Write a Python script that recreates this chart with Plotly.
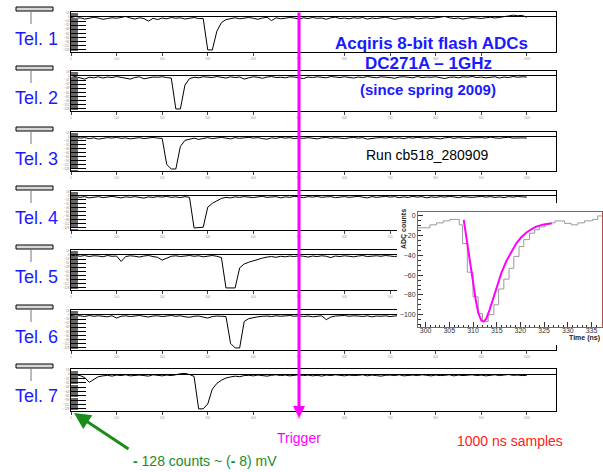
import plotly.graph_objects as go

# ---------------- data ----------------
tel_names = ["Tel. 1", "Tel. 2", "Tel. 3", "Tel. 4", "Tel. 5", "Tel. 6", "Tel. 7"]
sample_time_ns = list(range(0, 1001, 10))

tel1_adc = [-2, -6, -3, -8, -5, -1, -4, -9, -6, -3,
            -5, -2, 2, -4, -8, -3, -6, -16, -5, -10,
            -4, -7, -2, -5, -3, -8, -4, -2, -6, -6,
            -128, -128, -55, -22, -10, -6, -3, -7, -4, -2,
            -5, -9, -4, -1, -14, -3, -7, -5, -2, -4,
            -8, -3, -6, -2, -5, -4, -9, -3, -1, -6,
            -4, -7, -3, -5, -2, -8, -4, -6, -3, -1,
            -5, -9, -6, -3, -4, -2, -7, -5, -3, -6,
            -4, -1, 2, -3, -6, -4, -8, -5, -2, -4,
            -6, -3, -1, -4, -2, 0, 4, 7, 5, 6,
            -1]
tel2_adc = [2, -3, -6, -12, -5, -7, -3, -8, -4, -6,
            -2, -5, -9, -12, -6, -3, -11, -7, -4, -5,
            -3, -6, -8, -128, -128, -35, -10, -5, -7, -3,
            -4, -6, -2, -5, -8, -3, -6, -4, -12, -7,
            -3, -5, -9, -4, -2, -6, -5, -7, -3, -4,
            -8, -10, -4, -6, -3, -5, -7, -2, -4, -6,
            -3, -5, -8, -4, -6, -2, -5, -7, -3, -4,
            -6, -9, -4, -3, -5, -7, -2, -6, -4, -5,
            -3, -6, -10, -5, -4, -7, -3, -5, -2, -6,
            -4, -7, -5, -3, -8, -4, -6, -2, -5, -3,
            -4]
tel3_adc = [3, -2, -5, -3, -7, -4, -9, -6, -3, -5,
            -2, -6, -4, -8, -5, -3, -7, -4, -2, -5,
            -6, -110, -128, -128, -38, -14, -8, -5, -10, -6,
            -3, -7, -4, -2, -5, -8, -3, -6, -4, -2,
            -5, -3, -7, -9, -4, -6, -2, -5, -3, -7,
            -4, -6, -3, -5, -8, -4, -2, -6, -3, -5,
            -7, -4, -2, -5, -3, -9, -6, -4, -3, -5,
            -2, -6, -4, -7, -3, -5, -2, -4, -6, -3,
            -5, -8, -4, -2, -6, -3, -5, -7, -4, -2,
            -3, -5, -1, -4, -6, -3, -2, -5, -3, -4,
            -5]
tel4_adc = [-4, -2, -6, -3, -8, -5, -3, -7, -4, -2,
            -5, -8, -4, -6, -3, -5, -9, -4, -6, -3,
            -5, -2, -6, -4, -7, -3, -6, -128, -128, -125,
            -45, -30, -20, -10, -6, -8, -4, -6, -3, -5,
            -7, -4, -2, -6, -5, -3, -8, -4, -6, -2,
            -4, -7, -3, -5, -2, -6, -4, -3, -7, -5,
            -3, -6, -4, -2, -5, -8, -3, -6, -4, -2,
            -5, -3, -7, -4, -6, -2, -5, -3, -8, -4,
            -6, -3, -5, -2, -4, -7, -3, -5, -6, -4,
            -2, -5, -3, -6, -4, -7, -3, -5, -2, -4,
            -5]
tel5_adc = [-3, -1, -5, -2, -6, -3, -4, -7, -2, -5,
            -4, -25, -6, -3, -5, -8, -4, -2, -6, -9,
            -20, -12, -5, -3, -6, -4, -2, -5, -3, -7,
            -4, -2, -5, -10, -128, -128, -128, -50, -35, -28,
            -22, -16, -12, -8, -6, -9, -5, -7, -4, -6,
            -3, -5, -8, -4, -6, -3, -5, -10, -4, -6,
            -3, -5, -7, -4, -2, -6, -4, -3, -5, -2,
            -4, -6, -3, -5, -7, -4, -2, -5, -3, -6,
            -4, -5, -3, -6, -2, -4, -7, -3, -5, -4,
            -2, -5, -3, -6, -4, -3, -5, -2, -4, -3,
            -4]
tel6_adc = [-2, -4, -3, -6, -2, -5, -3, -4, -7, -3,
            -12, -5, -3, -6, -4, -2, -5, -8, -4, -3,
            -6, -4, -2, -5, -3, -7, -9, -5, -4, -8,
            -12, -6, -4, -5, -6, -110, -128, -128, -25, -14,
            -10, -7, -5, -4, -6, -3, -5, -4, -2, -5,
            -3, -6, -4, -7, -5, -3, -18, -8, -4, -3,
            -2, -5, -3, -4, -6, -3, -7, -4, -5, -3,
            -6, -4, -2, -5, -3, -6, -4, -5, -3, -2,
            -4, -6, -3, -5, -4, -2, -5, -3, -6, -4,
            -3, -5, -4, -2, -6, -3, -5, -4, -3, -4,
            -4]
tel7_adc = [-4, -2, -5, -12, -30, -18, -9, -6, -4, -7,
            -3, -5, -2, -6, -4, -3, -5, -7, -2, -4,
            -6, -3, -5, -2, 2, 3, -1, -8, -128, -128,
            -110, -55, -34, -22, -14, -10, -7, -9, -5, -4,
            -6, -3, -5, -7, -4, -2, -5, -3, -6, -4,
            -2, -5, -3, -6, -4, -7, -3, -5, -2, -4,
            -6, -3, -5, -4, -2, -6, -3, -5, -7, -4,
            -3, -5, -2, -6, -4, -3, -5, -2, -4, -6,
            -3, -5, -4, -2, -6, -3, -5, -4, -2, -5,
            -3, -6, -4, -2, -5, -3, -1, -4, -3, -5,
            -4]
tel_adc = [tel1_adc, tel2_adc, tel3_adc, tel4_adc, tel5_adc, tel6_adc, tel7_adc]

# inset: zoomed pulse (histogram steps) and fit
hist_edge_ns = [297.5, 300.9, 302.3, 303.7, 305.1, 307.1, 307.8, 308.8, 310.0, 311.1,
                312.0, 313.2, 314.4, 315.4, 316.5, 317.6, 318.6, 319.7, 320.7, 321.9,
                323.0, 324.0, 325.2, 326.5, 327.3, 329.3, 330.7, 332.1, 333.5, 335.2,
                336.3, 338.0]
hist_counts = [-12, -9, -7, -5, -3.5, -9, -28, -57, -82, -99,
               -107, -100, -90, -74, -64, -53, -41, -31, -24, -17.5,
               -14, -11, -8, -7, -5, -7.5, -9, -7, -5, -3.5,
               0]
fit_time_ns = [308.05, 308.47, 308.96, 309.45, 310.01, 310.57, 311.13, 311.76, 312.25,
               312.8, 313.5, 314.2, 315.06, 315.97, 317.0, 318.07, 319.1, 320.17,
               321.2, 322.3, 323.3, 324.7, 326.6]
fit_counts = [-4, -17.6, -34.5, -51, -68, -85, -98.6, -106, -107,
              -104, -95, -85, -72, -58, -46, -36, -28, -21.6,
              -17, -13.5, -10.8, -8.8, -7.4]

# ---------------- layout helpers ----------------
W, H = 603, 472
def px(v):
    return v / W
def py(v):
    return 1 - v / H

panel_top = [12, 71, 132, 191, 250, 310, 369]
panel_bottom = [52, 111, 171, 230, 290, 350, 411]
FONT = "Liberation Sans, Arial, sans-serif"
BLUE = "#1a1aff"

def label(x, y, text, size, color, **kw):
    d = dict(x=px(x), y=py(y), xref="paper", yref="paper", text=text, showarrow=False,
             xanchor="center", yanchor="middle",
             font=dict(family=FONT, size=size, color=color))
    d.update(kw)
    return d

fig = go.Figure()
layout = dict(width=W, height=H, margin=dict(l=0, r=0, t=0, b=0, pad=0), autosize=False,
              paper_bgcolor="white", plot_bgcolor="white", showlegend=False,
              font=dict(family=FONT))
shapes = []
annotations = []

for i, (name, vals) in enumerate(zip(tel_names, tel_adc)):
    k = i + 1
    xa = "x" if k == 1 else f"x{k}"
    ya = "y" if k == 1 else f"y{k}"
    fig.add_trace(go.Scatter(x=sample_time_ns, y=vals, mode="lines",
                             line=dict(color="black", width=1),
                             xaxis=xa, yaxis=ya, hoverinfo="skip"))
    xkey = "xaxis" if k == 1 else f"xaxis{k}"
    ykey = "yaxis" if k == 1 else f"yaxis{k}"
    layout[xkey] = dict(domain=[px(71), px(556)], range=[0, 1064], anchor=ya,
                        showline=True, mirror=True, linecolor="black", linewidth=1,
                        ticks="outside", ticklen=3, tickcolor="#444", dtick=100,
                        tickfont=dict(size=3, color="#999"), showgrid=False,
                        zeroline=False, fixedrange=True, automargin=False)
    layout[ykey] = dict(domain=[py(panel_bottom[i]), py(panel_top[i])], range=[-136, 19.4],
                        anchor=xa, showline=True, mirror=True, linecolor="black",
                        linewidth=1, ticks="inside", ticklen=15, tickcolor="black",
                        tickwidth=1.3,
                        tick0=0, dtick=16, tickfont=dict(size=3, color="#888"),
                        minor=dict(ticks="inside", ticklen=7, dtick=4, tickcolor="#666"),
                        showgrid=False, zeroline=True, zerolinecolor="black",
                        zerolinewidth=1, fixedrange=True, automargin=False)
    annotations.append(label(36, panel_top[i] + 27, name, 18, BLUE))
    # small icon on the left
    shapes.append(dict(type="rect", xref="paper", yref="paper",
                       x0=px(16), x1=px(53), y0=py(panel_top[i] - 1), y1=py(panel_top[i] - 5),
                       line=dict(color="black", width=1), fillcolor="#d8d8d8"))
    shapes.append(dict(type="line", xref="paper", yref="paper",
                       x0=px(31), x1=px(31), y0=py(panel_top[i] - 1), y1=py(panel_top[i] + 12),
                       line=dict(color="#777", width=1)))

# white cover behind the inset (an overlapping subplot draws its own background)
fig.add_trace(go.Scatter(x=[None], y=[None], xaxis="x8", yaxis="y8", hoverinfo="skip"))
layout["xaxis8"] = dict(domain=[px(397), 1], range=[0, 1], anchor="y8",
                        showline=False, showticklabels=False, ticks="", showgrid=False,
                        zeroline=False, fixedrange=True)
layout["yaxis8"] = dict(domain=[py(345), py(203)], range=[0, 1], anchor="x8",
                        showline=False, showticklabels=False, ticks="", showgrid=False,
                        zeroline=False, fixedrange=True)

# inset
fig.add_trace(go.Scatter(x=hist_edge_ns, y=hist_counts + [hist_counts[-1]], mode="lines",
                         line=dict(color="#9a9a9a", width=1, shape="hv"),
                         xaxis="x9", yaxis="y9", hoverinfo="skip"))
fig.add_trace(go.Scatter(x=fit_time_ns, y=fit_counts, mode="lines",
                         line=dict(color="#ff00ff", width=2),
                         xaxis="x9", yaxis="y9", hoverinfo="skip"))
FRAME = "#b05050"
layout["xaxis9"] = dict(domain=[px(418), px(602)], range=[298.4, 337.2], anchor="y9",
                        showline=True, mirror=True, linecolor=FRAME, linewidth=1,
                        ticks="inside", ticklen=5, tickcolor="#333", dtick=5, tick0=300,
                        tickfont=dict(size=7, color="#333"), ticklabelstandoff=-3,
                        minor=dict(ticks="inside", ticklen=2.5, dtick=1, tickcolor="#333"),
                        showgrid=False, zeroline=False, fixedrange=True, automargin=False)
layout["yaxis9"] = dict(domain=[py(327), py(212)], range=[-112.5, 4], anchor="x9",
                        showline=True, mirror=True, linecolor=FRAME, linewidth=1,
                        ticks="inside", ticklen=5, tickcolor="#333", dtick=20, tick0=0,
                        tickfont=dict(size=7, color="#333"),
                        minor=dict(ticks="inside", ticklen=2.5, dtick=5, tickcolor="#333"),
                        showgrid=False, zeroline=False, fixedrange=True, automargin=False)

annotations += [
    label(404, 229, "<b>ADC counts</b>", 7, "#222", textangle=-90),
    label(602, 338, "<b>Time (ns)</b>", 7, "#222", xanchor="right"),
    label(431, 44, "<b>Acqiris 8-bit flash ADCs</b>", 17, BLUE),
    label(428, 64, "<b>DC271A – 1GHz</b>", 17, BLUE),
    label(428, 89, "<b>(since spring 2009)</b>", 15, BLUE),
    label(427, 155.5, "Run cb518_280909", 14, "black"),
    label(299, 438, "Trigger", 14, "#ff00ff"),
    label(510, 441, "1000 ns samples", 14, "#ff2020"),
    label(205, 461, "<b>-</b> 128 counts ~ (<b>-</b> 8) mV", 14, "#1a8c1a"),
    # trigger arrow
    dict(x=px(299), y=py(418), xref="paper", yref="paper", text="", showarrow=True,
         ax=0, ay=-(418 - 11), arrowhead=2, arrowsize=0.8, arrowwidth=3,
         arrowcolor="#ff00ff", standoff=0),
    # green arrow
    dict(x=px(74), y=py(413), xref="paper", yref="paper", text="", showarrow=True,
         ax=56, ay=37, arrowhead=2, arrowsize=1.1, arrowwidth=3,
         arrowcolor="#1a8c1a", standoff=0),
]

layout["shapes"] = shapes
layout["annotations"] = annotations
fig.update_layout(**layout)
fig.write_html("out.html", config={"displayModeBar": False},
               post_script="document.body.style.margin='0px';document.body.style.padding='0px';")
